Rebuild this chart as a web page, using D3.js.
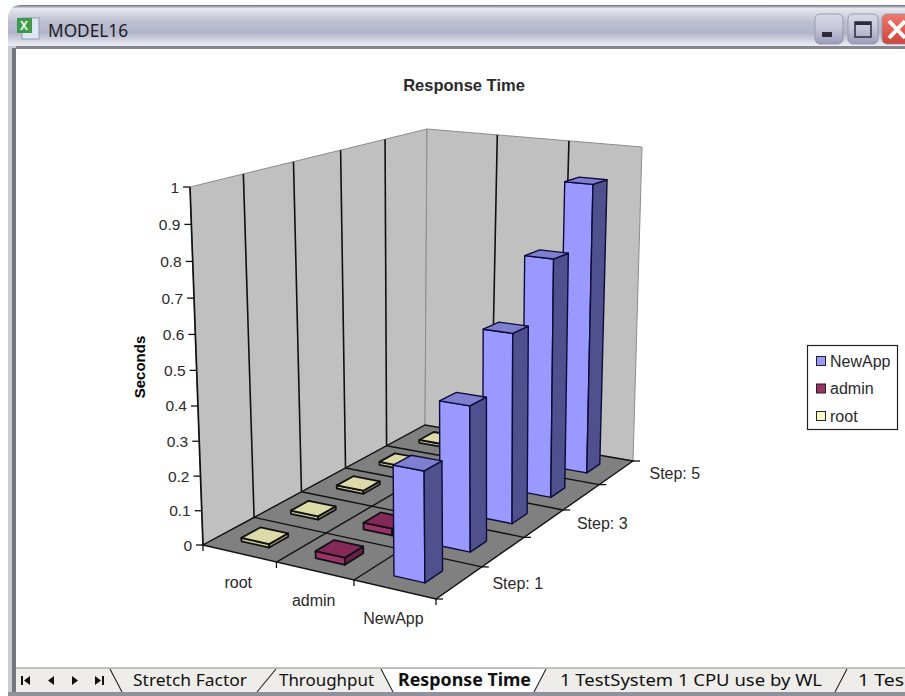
<!DOCTYPE html>
<meta charset="utf-8">
<title>Response Time</title>
<style>
html, body { margin: 0; padding: 0; background: #fff; overflow: hidden; }
svg { display: block; }
text { font-family: "Liberation Sans", sans-serif; fill: #2a2a2a; }
.chrome text { font-family: "Noto Sans", sans-serif; }
</style>
<body>
<script src="https://cdn.jsdelivr.net/npm/d3@7"></script>
<script>
var categories = ["root", "admin", "NewApp"];
var steps = ["Step: 1", "Step: 2", "Step: 3", "Step: 4", "Step: 5"];
var newAppValues = [0.305, 0.415, 0.56, 0.725, 0.905];
var adminValues = [0.02, 0.02, 0.02, 0.02, 0.02];
var rootValues = [0.01, 0.01, 0.01, 0.01, 0.01];
var seriesNames = ["NewApp", "admin", "root"];
var tabNames = ["Stretch Factor", "Throughput", "Response Time", "1 TestSystem 1  CPU use by WL", "1 Tes"];

var width = 905, height = 696;

var svg = d3.select("body").append("svg")
    .attr("width", width)
    .attr("height", height);

// corners of the 3d box on screen: [front-left, front-right, back-right, back-left]
var floorQuad = [[203, 545], [436, 599], [633, 461], [425, 425]];
var topQuad = [[190, 187], [433, 210], [642, 147], [427, 129]];

function quadMap(q) {
  var x0 = q[0][0], y0 = q[0][1], x1 = q[1][0], y1 = q[1][1],
      x2 = q[2][0], y2 = q[2][1], x3 = q[3][0], y3 = q[3][1];
  var dx1 = x1 - x2, dy1 = y1 - y2, dx2 = x3 - x2, dy2 = y3 - y2,
      sx = x0 - x1 + x2 - x3, sy = y0 - y1 + y2 - y3;
  var den = dx1 * dy2 - dx2 * dy1;
  var g = (sx * dy2 - dx2 * sy) / den, h = (dx1 * sy - sx * dy1) / den;
  var a = x1 - x0 + g * x1, b = x3 - x0 + h * x3,
      d = y1 - y0 + g * y1, e = y3 - y0 + h * y3;
  return function(u, v) {
    var w = g * u + h * v + 1;
    return [(a * u + b * v + x0) / w, (d * u + e * v + y0) / w];
  };
}

var floorMap = quadMap(floorQuad), topMap = quadMap(topQuad);

var zScale = d3.scaleLinear().domain([0, 1]).range([0, 1]);

// u, v run 0..1 across the floor, z is a value on the vertical axis
function project(u, v, z) {
  var t = zScale(z), k = t / (1.05 - 0.05 * t);
  var a = floorMap(u, v), b = topMap(u, v);
  return [a[0] + (b[0] - a[0]) * k, a[1] + (b[1] - a[1]) * k];
}

var uBand = d3.scaleBand().domain(categories).range([0, 1]).paddingInner(0.62).paddingOuter(0.31);
var vBand = d3.scaleBand().domain(steps).range([0, 1]).paddingInner(0.62).paddingOuter(0.31);
var uStep = uBand.step(), vStep = vBand.step();

var line = d3.line();
function poly(points) { return line(points) + "Z"; }

var chart = svg.append("g");

// walls
chart.append("path")
    .attr("d", poly([project(0, 0, 0), project(0, 1, 0), project(0, 1, 1), project(0, 0, 1)]))
    .attr("fill", "#c0c0c0").attr("stroke", "#8c8c8c");
chart.append("path")
    .attr("d", poly([project(0, 1, 0), project(1, 1, 0), project(1, 1, 1), project(0, 1, 1)]))
    .attr("fill", "#c0c0c0").attr("stroke", "#8c8c8c");

// wall dividers
d3.range(1, steps.length).forEach(function(i) {
  chart.append("path").attr("d", line([project(0, i * vStep, 0), project(0, i * vStep, 1)]))
      .attr("stroke", "#111").attr("stroke-width", 1.6).attr("fill", "none");
});
d3.range(1, categories.length).forEach(function(i) {
  chart.append("path").attr("d", line([project(i * uStep, 1, 0), project(i * uStep, 1, 1)]))
      .attr("stroke", "#111").attr("stroke-width", 1.6).attr("fill", "none");
});

// floor
chart.append("path")
    .attr("d", poly([project(0, 0, 0), project(1, 0, 0), project(1, 1, 0), project(0, 1, 0)]))
    .attr("fill", "#808080").attr("stroke", "#111").attr("stroke-width", 1.4);
d3.range(1, steps.length).forEach(function(i) {
  chart.append("path").attr("d", line([project(0, i * vStep, 0), project(1, i * vStep, 0)]))
      .attr("stroke", "#111").attr("stroke-width", 1.4).attr("fill", "none");
});
d3.range(1, categories.length).forEach(function(i) {
  chart.append("path").attr("d", line([project(i * uStep, 0, 0), project(i * uStep, 1, 0)]))
      .attr("stroke", "#111").attr("stroke-width", 1.4).attr("fill", "none");
});

// floor ticks
d3.range(0, categories.length + 1).forEach(function(i) {
  var p = project(i * uStep, 0, 0);
  chart.append("path").attr("d", line([p, [p[0], p[1] + 6]])).attr("stroke", "#111").attr("stroke-width", 1.3);
});
d3.range(0, steps.length + 1).forEach(function(i) {
  var p = project(1, i * vStep, 0);
  chart.append("path").attr("d", line([p, [p[0] + 7, p[1]]])).attr("stroke", "#111").attr("stroke-width", 1.3);
});

// value axis on the front edge of the left wall
chart.append("path").attr("d", line([project(0, 0, 0), project(0, 0, 1)]))
    .attr("stroke", "#111").attr("stroke-width", 1.7).attr("fill", "none");
zScale.ticks(10).forEach(function(t) {
  var p = project(0, 0, t);
  chart.append("path").attr("d", line([p, [p[0] - 7, p[1]]])).attr("stroke", "#111").attr("stroke-width", 1.3);
  chart.append("text").attr("x", p[0] - 11).attr("y", p[1] + 5.5)
      .attr("text-anchor", "end").attr("font-size", 15.5).text(d3.format("~g")(t));
});

// bars, drawn back to front
var colors = {
  NewApp: {front: "#9999ff", top: "#7f7fd0", side: "#50508f"},
  admin: {front: "#99336a", top: "#842a58", side: "#6a1f46"},
  root: {front: "#c8c89a", top: "#dcdaa8", side: "#a5a57e"}
};
var seriesValues = {root: rootValues, admin: adminValues, NewApp: newAppValues};

var bars = [];
steps.forEach(function(s, i) {
  categories.forEach(function(c) {
    bars.push({category: c, step: s, value: seriesValues[c][i]});
  });
});
bars.sort(function(a, b) {
  return d3.descending(steps.indexOf(a.step), steps.indexOf(b.step))
      || d3.ascending(categories.indexOf(a.category), categories.indexOf(b.category));
});

bars.forEach(function(d) {
  var u0 = uBand(d.category), u1 = u0 + uBand.bandwidth(),
      v0 = vBand(d.step), v1 = v0 + vBand.bandwidth(),
      c = colors[d.category], z = d.value;
  var g = chart.append("g").attr("stroke", "#0c0c3a").attr("stroke-width", 1.4).attr("stroke-linejoin", "round");
  if (d.category != "NewApp") g.attr("stroke", "#111").attr("stroke-width", 1.8);
  g.append("path").attr("fill", c.front)
      .attr("d", poly([project(u0, v0, 0), project(u1, v0, 0), project(u1, v0, z), project(u0, v0, z)]));
  g.append("path").attr("fill", c.side)
      .attr("d", poly([project(u1, v0, 0), project(u1, v1, 0), project(u1, v1, z), project(u1, v0, z)]));
  g.append("path").attr("fill", c.top)
      .attr("d", poly([project(u0, v0, z), project(u1, v0, z), project(u1, v1, z), project(u0, v1, z)]));
});

// texts
chart.append("text").attr("x", 464).attr("y", 91).attr("text-anchor", "middle")
    .attr("font-size", 16.5).attr("font-weight", "bold").text("Response Time");
chart.append("text").attr("transform", "translate(145,367) rotate(-90)").attr("text-anchor", "middle")
    .attr("font-size", 15).attr("font-weight", "bold").style("fill", "#000").text("Seconds");

categories.forEach(function(c) {
  var p = project(uBand(c) + uBand.bandwidth() / 2, 0, 0);
  chart.append("text").attr("x", p[0] - 1).attr("y", p[1] + 35).attr("text-anchor", "middle")
      .attr("font-size", 16).text(c);
});
steps.forEach(function(s, i) {
  if (i % 2) return;
  var p = project(1, vBand(s) + vBand.bandwidth() / 2, 0);
  chart.append("text").attr("x", p[0] + 33).attr("y", p[1] + 6).attr("font-size", 16).text(s);
});

// legend
var legend = svg.append("g").attr("transform", "translate(807,345)");
legend.append("rect").attr("x", 0.5).attr("y", 0.5).attr("width", 90).attr("height", 84)
    .attr("fill", "#fff").attr("stroke", "#222").attr("stroke-width", 1.2);
seriesNames.forEach(function(n, i) {
  var y = 16 + i * 27.5;
  legend.append("rect").attr("x", 9.5).attr("y", y - 4.5).attr("width", 9).attr("height", 9)
      .attr("fill", n == "root" ? "#ffffcc" : n == "admin" ? "#993366" : "#9999ff")
      .attr("stroke", "#222").attr("stroke-width", 1);
  legend.append("text").attr("x", 23).attr("y", y + 5.5).attr("font-size", 16).text(n);
});

// spreadsheet window around the chart
var chrome = svg.append("g").attr("class", "chrome");
var defs = svg.append("defs");
function vGradient(id, stops) {
  var g = defs.append("linearGradient").attr("id", id).attr("x1", 0).attr("x2", 0).attr("y1", 0).attr("y2", 1);
  stops.forEach(function(s) { g.append("stop").attr("offset", s[0]).attr("stop-color", s[1]); });
}
vGradient("titleGrad", [[0, "#666a80"], [0.08, "#e6e7ee"], [0.4, "#bcbed0"], [0.65, "#b2b4ca"], [0.9, "#e4e5ee"], [1, "#f2f2f6"]]);
vGradient("btnGrad", [[0, "#d9dae6"], [0.5, "#c4c5d6"], [1, "#9a9cb8"]]);
vGradient("closeGrad", [[0, "#ee7a6c"], [1, "#cf4438"]]);

chrome.append("path").attr("d", "M8,48V18Q8,5 22,5H905V48Z").attr("fill", "url(#titleGrad)");
chrome.append("rect").attr("x", 8).attr("y", 46).attr("width", 897).attr("height", 3).attr("fill", "#85868f");
chrome.append("rect").attr("x", 8).attr("y", 46).attr("width", 8).attr("height", 648).attr("fill", "#c9cad2");
chrome.append("rect").attr("x", 12).attr("y", 48).attr("width", 4).attr("height", 646).attr("fill", "#75767e");
chrome.append("rect").attr("x", 8).attr("y", 692).attr("width", 897).attr("height", 4).attr("fill", "#8f919c");

// title icon
chrome.append("rect").attr("x", 22).attr("y", 18).attr("width", 17).attr("height", 21).attr("fill", "#dfe8f2").attr("stroke", "#8aa0bc");
chrome.append("rect").attr("x", 17).attr("y", 18).attr("width", 15).attr("height", 15).attr("fill", "#3e9a4a");
chrome.append("text").attr("x", 20).attr("y", 30).attr("font-size", 12).attr("font-weight", "bold").style("fill", "#e8f4e0").text("X");
chrome.append("text").attr("x", 48).attr("y", 37).attr("font-size", 18)
    .attr("textLength", 80).attr("lengthAdjust", "spacingAndGlyphs").style("fill", "#1c1c24").text("MODEL16");

// window buttons
[[815, 28, "btnGrad"], [848, 30, "btnGrad"], [882, 30, "closeGrad"]].forEach(function(b) {
  chrome.append("rect").attr("x", b[0]).attr("y", 14).attr("width", b[1]).attr("height", 30).attr("rx", 5)
      .attr("fill", "url(#" + b[2] + ")").attr("stroke", "#8f90a6").attr("stroke-width", 0.8);
});
chrome.append("rect").attr("x", 822).attr("y", 32).attr("width", 10).attr("height", 5).attr("fill", "#2a2c3c");
chrome.append("rect").attr("x", 855).attr("y", 22).attr("width", 16).attr("height", 15).attr("fill", "none").attr("stroke", "#2a2c3c").attr("stroke-width", 1.5);
chrome.append("rect").attr("x", 855).attr("y", 22).attr("width", 16).attr("height", 3).attr("fill", "#2a2c3c");
chrome.append("path").attr("d", "M889,21L905,38M905,21L889,38").attr("stroke", "#fff").attr("stroke-width", 4);

// sheet tabs
chrome.append("rect").attr("x", 16).attr("y", 668).attr("width", 889).attr("height", 24).attr("fill", "#eeede9");
chrome.append("path").attr("d", "M16,668H905").attr("stroke", "#8a8a8a");
chrome.append("path").attr("d", "M393,692L381,669H546L534,692Z").attr("fill", "#fff");
[[110, 122], [276, 257], [381, 393], [546, 534], [847, 835]].forEach(function(s) {
  chrome.append("path").attr("d", "M" + s[0] + ",669L" + s[1] + ",692").attr("stroke", "#222").attr("stroke-width", 1.1);
});
var tabLeft = [133, 279, 398, 560, 858], tabFit = [114, 95, 133, 262, 46];
tabNames.forEach(function(n, i) {
  chrome.append("text").attr("x", tabLeft[i]).attr("y", 686).attr("font-size", 17)
      .attr("font-weight", i == 2 ? "bold" : "normal")
      .attr("textLength", tabFit[i]).attr("lengthAdjust", "spacingAndGlyphs").style("fill", "#111").text(n);
});
// tab scroll arrows
chrome.append("path").attr("fill", "#111").attr("d",
    "M21,676h2v9h-2ZM30,676v9l-6,-4.5Z" +
    "M54,676v9l-6,-4.5Z" +
    "M72,676v9l6,-4.5Z" +
    "M95,676v9l6,-4.5ZM102,676h2v9h-2Z");
</script>
</body>
